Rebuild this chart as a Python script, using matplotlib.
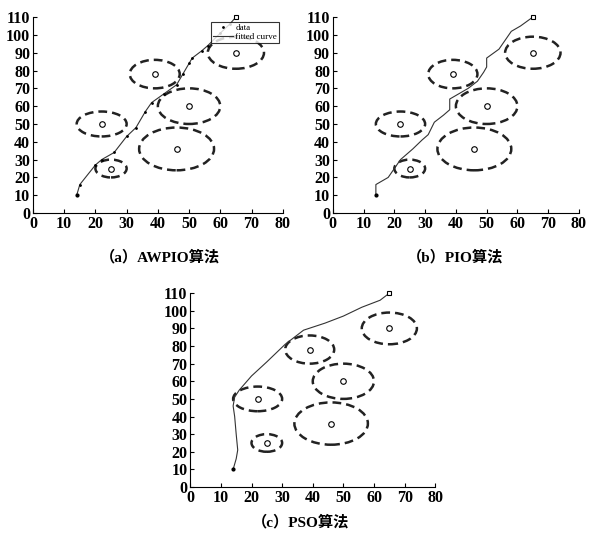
import matplotlib
matplotlib.use("Agg")
import matplotlib.pyplot as plt
from matplotlib.patches import Ellipse

# obstacles: centre x, centre y, radius (data units)
obs_x = [22, 25, 39, 50, 46, 65]
obs_y = [50, 25, 78, 60, 36, 90]
obs_r = [8, 5, 8, 10, 12, 9]
obs_ry = [7, 5, 8, 10, 12, 9]

start = (14, 10)
goal = (65, 110)

awpio_x = [14, 15, 20, 22, 26, 30, 33, 36, 38, 42, 46, 48, 50, 51, 54, 56, 60, 63, 65]
awpio_y = [10, 16, 27, 30, 34, 43, 48, 57, 62, 67, 72, 78, 84, 87, 91, 94, 101, 106, 110]

pio_x = [14, 14, 18, 20, 22, 26, 29, 31, 33, 36, 38, 38, 40, 44, 47, 49, 50, 50, 54, 58, 61, 65]
pio_y = [10, 16, 20, 25, 30, 36, 41, 44, 51, 55, 58, 64, 66, 70, 74, 79, 82, 87, 92, 102, 105, 110]

pso_x = [14, 15, 15.5, 15, 14.5, 14, 14.5, 16, 20, 25, 31, 37, 44, 50, 56, 62, 65]
pso_y = [10, 16, 21, 30, 40, 46, 51, 55, 63, 71, 81, 89, 93, 97, 102, 106, 110]

captions = ["（a）AWPIO算法", "（b）PIO算法", "（c）PSO算法"]

FONT = ["Liberation Serif", "Noto Sans CJK SC"]
plt.rcParams["font.family"] = FONT
plt.rcParams["font.weight"] = "bold"

fig = plt.figure(figsize=(5.89, 5.34), dpi=100)
positions = [
    [0.056, 0.601, 0.424, 0.367],
    [0.565, 0.601, 0.418, 0.367],
    [0.323, 0.088, 0.416, 0.363],
]
paths = [(awpio_x, awpio_y), (pio_x, pio_y), (pso_x, pso_y)]
cap_pos = [(0.272, 0.518), (0.772, 0.518), (0.51, 0.022)]

for i, (pos, (px, py)) in enumerate(zip(positions, paths)):
    ax = fig.add_axes(pos)
    for cx, cy, rx, ry in zip(obs_x, obs_y, obs_r, obs_ry):
        ax.add_patch(Ellipse((cx, cy), 2 * rx, 2 * ry, fill=False, ls=(0, (3.5, 2)),
                             lw=1.8, color="#222222"))
    ax.plot(obs_x, obs_y, "o", ms=4, mfc="white", mec="black", mew=0.8, ls="none")
    ln, = ax.plot(px, py, "-", color="#333333", lw=0.8, clip_on=False)
    if i == 0:
        dots, = ax.plot(px[1:-1], py[1:-1], ".", color="black", ms=2)
    ax.plot(*start, ".", color="black", ms=4, clip_on=False)
    ax.plot(*goal, "s", ms=3.5, mfc="white", mec="black", mew=0.8, clip_on=False)

    ax.set_xlim(0, 80)
    ax.set_ylim(0, 110)
    ax.set_xticks(range(0, 81, 10))
    ax.set_yticks(range(0, 111, 10))
    ax.spines["top"].set_visible(False)
    ax.spines["right"].set_visible(False)
    ax.tick_params(direction="in", length=3, labelsize=11.5, pad=2)
    for lab in ax.get_xticklabels() + ax.get_yticklabels():
        lab.set_fontweight("bold")

    if i == 0:
        leg = ax.legend([dots, ln], ["data", "fitted curve"], loc="upper right",
                        bbox_to_anchor=(0.985, 0.975), fontsize=6.5, frameon=True,
                        fancybox=False, edgecolor="black", handlelength=2.2,
                        borderpad=0.2, labelspacing=0.1, handletextpad=0.3,
                        borderaxespad=0)
        leg.get_frame().set_linewidth(0.8)
        for t in leg.get_texts():
            t.set_fontweight("normal")

    fig.text(cap_pos[i][0], cap_pos[i][1], captions[i], ha="center", va="center",
             fontsize=11, fontweight="bold")

fig.savefig("out.png", dpi=100)
